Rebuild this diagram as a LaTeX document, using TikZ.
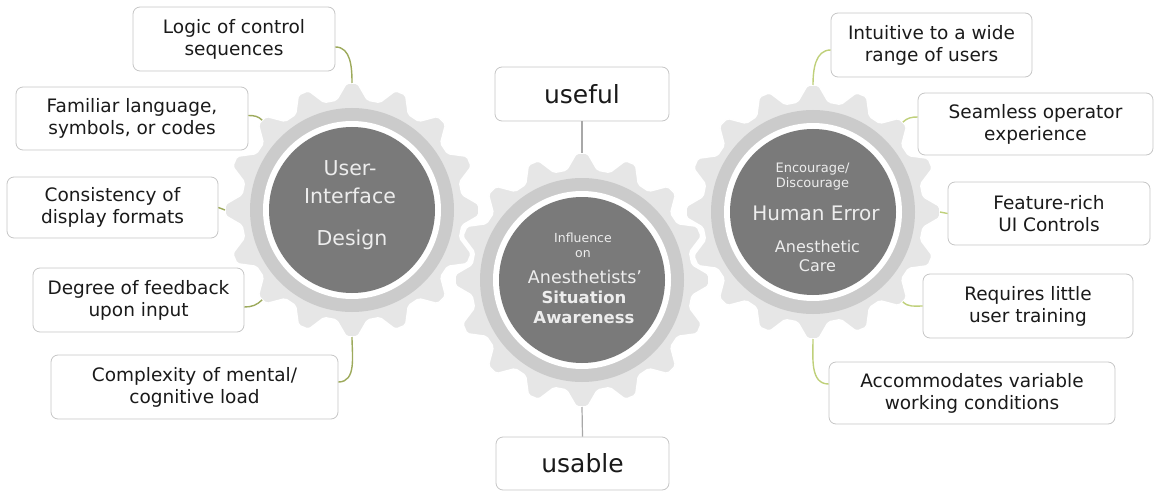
\documentclass[tikz,border=0pt]{standalone}
\usepackage{fontspec}
\setmainfont{DejaVu Sans}

\definecolor{gearbody}{HTML}{E6E6E6}
\definecolor{gearring}{HTML}{CBCBCB}
\definecolor{hubgray}{HTML}{7A7A7A}
\definecolor{hubfont}{HTML}{EDEDED}
\definecolor{boxline}{HTML}{C6C6C6}
\definecolor{boxtext}{HTML}{1A1A1A}
\definecolor{leftgreen}{HTML}{9DAA5C}
\definecolor{rightgreen}{HTML}{BFD07A}
\definecolor{midgray}{HTML}{A8A8A8}

\tikzset{
  itembox/.style={draw=boxline, fill=white, rounded corners=7pt, line width=0.8pt,
    align=center, inner sep=0pt, text=boxtext, font=\fontsize{18.5}{22}\selectfont},
  bigbox/.style={itembox, font=\fontsize{25}{30}\selectfont},
  hub/.style={circle, fill=hubgray, minimum size=166pt, inner sep=0pt},
  gearshape/.style={circle, minimum size=254pt, inner sep=0pt, outer sep=0pt},
  hubtext/.style={text=hubfont, align=center, inner sep=0pt},
  leftlink/.style={draw=leftgreen, line width=1.4pt},
  rightlink/.style={draw=rightgreen, line width=1.4pt},
  midlink/.style={draw=midgray, line width=1.2pt}
}

% gear body with 16 teeth, ring and white gap; #3 names the outline
\newcommand{\drawgear}[3]{%
  \begin{scope}[shift={(#1,#2)}]
    \filldraw[fill=gearbody, draw=white, line width=1.5pt, rounded corners=2pt]
      (82:111pt) \foreach \i [evaluate=\i as \a using 90+22.5*\i] in {0,...,15} {
        -- ({\a-8}:111pt) -- ({\a-2.5}:127pt) -- ({\a+2.5}:127pt) -- ({\a+8}:111pt)} -- cycle;
    \fill[gearring] (0,0) circle (102pt);
    \fill[white] (0,0) circle (89pt);
  \end{scope}
  \node[gearshape] (#3) at (#1,#2) {};
}

\begin{document}
\begin{tikzpicture}[x=1pt, y=1pt]
  \useasboundingbox (0,0) rectangle (1154,491);

  % gears
  \drawgear{352}{281}{uidgear}
  \drawgear{813}{279}{hegear}
  \drawgear{582}{211}{sagear}
  \node[hub] (uid) at (352,281) {};
  \node[hub] (he) at (813,279) {};
  \node[hub] (sa) at (582,211) {};

  % gear texts
  \node[hubtext, font=\fontsize{20.5}{28}\selectfont] (uidtitle) at (350,309) {User-\\Interface};
  \node[hubtext, font=\fontsize{20.5}{28}\selectfont] (uiddesign) at (352,251) {Design};

  \node[hubtext, font=\fontsize{12.5}{15}\selectfont] (sainfluence) at (583,245.5) {Influence\\on};
  \node[hubtext, font=\fontsize{17.5}{21}\selectfont] (saname) at (585,214) {Anesthetists'};
  \node[hubtext, font=\bfseries\fontsize{16.5}{20}\selectfont] (saterm) at (584,184) {Situation\\Awareness};

  \node[hubtext, font=\fontsize{13}{15}\selectfont] (heaction) at (812.5,314.5) {Encourage/\\Discourage};
  \node[hubtext, font=\fontsize{20}{24}\selectfont] (hename) at (816,278) {Human Error};
  \node[hubtext, font=\fontsize{16}{19}\selectfont] (hecare) at (817.5,234.5) {Anesthetic\\Care};

  % left boxes
  \node[itembox, minimum width=202pt, minimum height=64pt] (logic) at (234,452) {Logic of control\\sequences};
  \node[itembox, minimum width=232pt, minimum height=63pt] (familiar) at (132,372.5) {Familiar language,\\symbols, or codes};
  \node[itembox, minimum width=211pt, minimum height=61pt] (consistency) at (112.5,283.5) {Consistency of\\display formats};
  \node[itembox, minimum width=211pt, minimum height=64pt] (feedback) at (138.5,191) {Degree of feedback\\upon input};
  \node[itembox, minimum width=287pt, minimum height=64pt] (complexity) at (194.5,104) {Complexity of mental/\\cognitive load};

  % middle boxes
  \node[bigbox, minimum width=174pt, minimum height=54pt] (useful) at (582,397) {useful};
  \node[bigbox, minimum width=173pt, minimum height=53pt] (usable) at (582.5,27.5) {usable};

  % right boxes
  \node[itembox, minimum width=201pt, minimum height=64pt] (intuitive) at (931.5,446) {Intuitive to a wide\\range of users};
  \node[itembox, minimum width=235pt, minimum height=62pt] (seamless) at (1035.5,367) {Seamless operator\\experience};
  \node[itembox, minimum width=202pt, minimum height=63pt] (feature) at (1049,277.5) {Feature-rich\\UI Controls};
  \node[itembox, minimum width=210pt, minimum height=64pt] (requires) at (1028,185) {Requires little\\user training};
  \node[itembox, minimum width=286pt, minimum height=62pt] (accommodates) at (972,98) {Accommodates variable\\working conditions};

  % connectors
  \draw[leftlink] ([yshift=-8pt]logic.east) to[out=0, in=90] (uidgear.north);
  \draw[leftlink] ([yshift=3pt]familiar.east) to[out=0, in=135] (uidgear.135);
  \draw[leftlink] (consistency.east) -- (uidgear.west);
  \draw[leftlink] ([yshift=-7pt]feedback.east) to[out=0, in=225] (uidgear.225);
  \draw[leftlink] ([yshift=5pt]complexity.east) to[out=0, in=-90] (uidgear.south);

  \draw[midlink] (useful.south) -- (sagear.north);
  \draw[midlink] (usable.north) -- (sagear.south);

  \draw[rightlink] ([yshift=-5pt]intuitive.west) to[out=180, in=90] (hegear.north);
  \draw[rightlink] ([yshift=7pt]seamless.west) to[out=180, in=45] (hegear.45);
  \draw[rightlink] (feature.west) -- (hegear.east);
  \draw[rightlink] (requires.west) to[out=180, in=-45] (hegear.-45);
  \draw[rightlink] ([yshift=9pt]accommodates.west) to[out=180, in=-90] (hegear.south);
\end{tikzpicture}
\end{document}
